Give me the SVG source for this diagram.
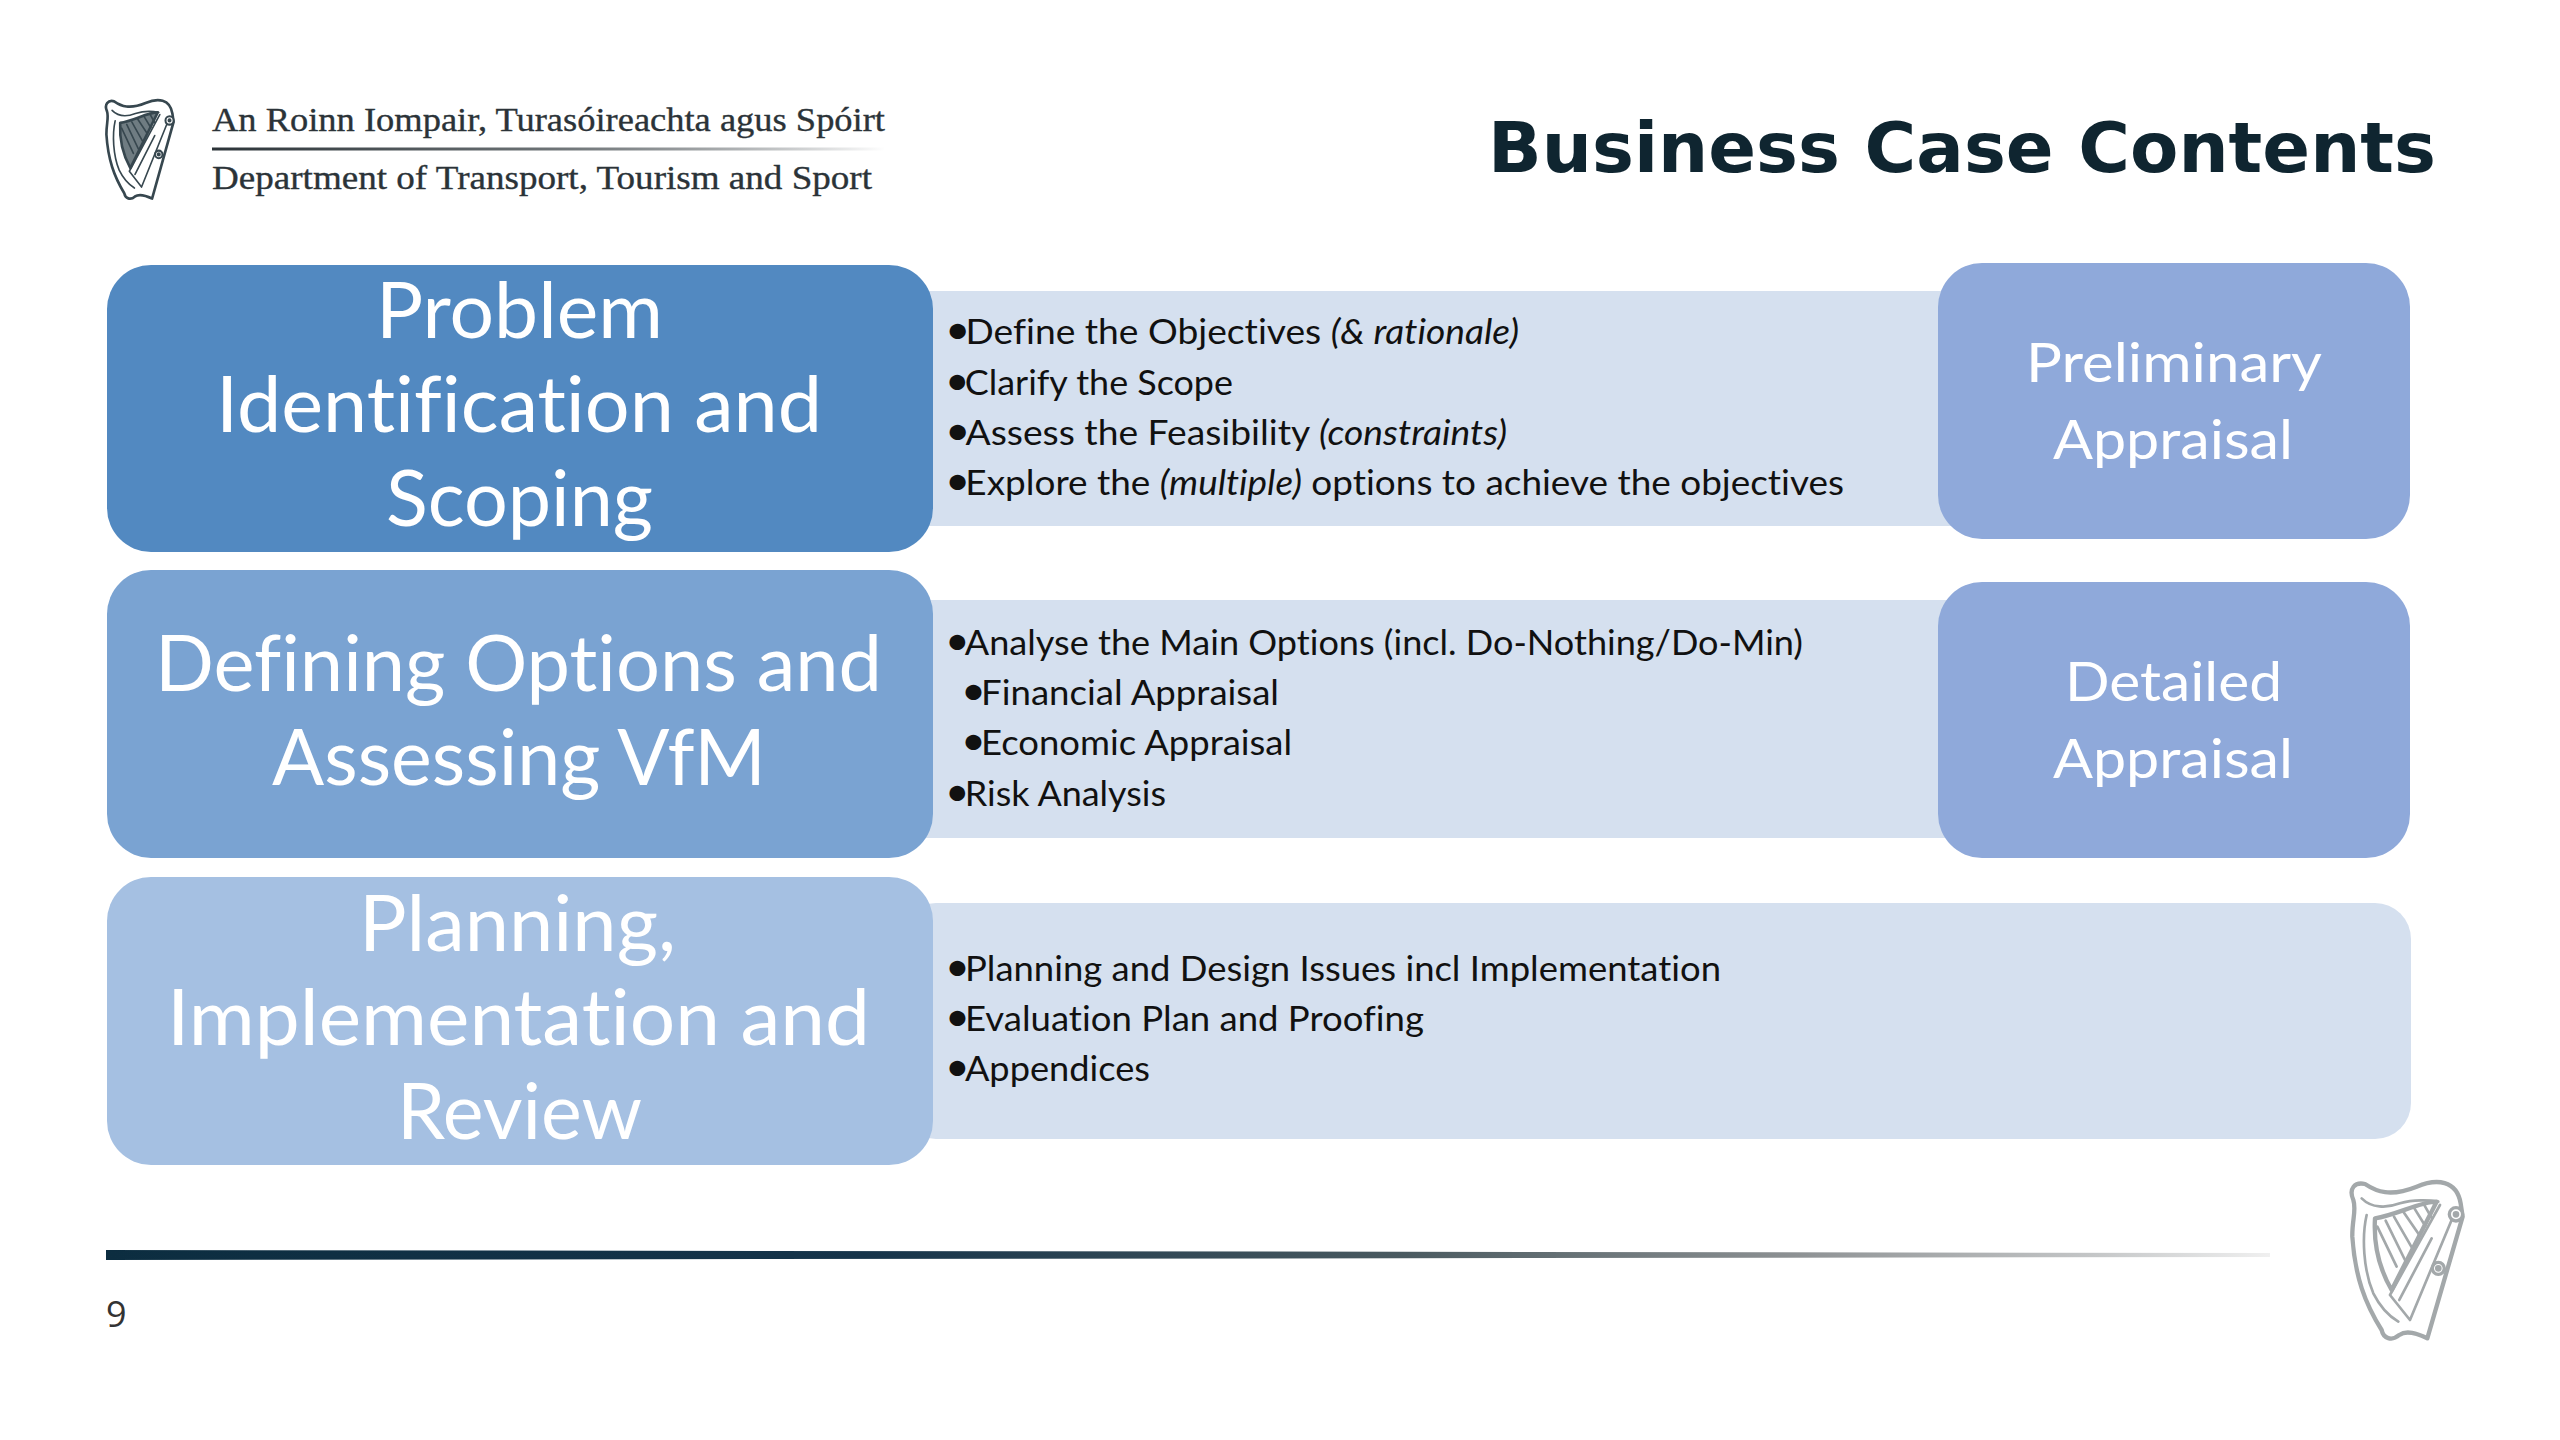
<svg xmlns="http://www.w3.org/2000/svg" width="2560" height="1440" viewBox="0 0 2560 1440">
<style>
text{font-variant-ligatures:none}
.h{font-family:"Lato","Carlito","Liberation Sans",sans-serif;fill:#fff;font-size:77px}
.r{font-family:"Lato","Carlito","Liberation Sans",sans-serif;fill:#fff;font-size:54px}
.b{font-family:"Lato","Carlito","Liberation Sans",sans-serif;fill:#111;font-size:34px}
.d{font-size:40px;letter-spacing:-4.500px}
.s{font-family:"Liberation Serif","DejaVu Serif",serif;fill:#2b3338;stroke:#2b3338;stroke-width:.35px;font-size:34px}
.i{font-style:italic}
.band{fill:#d5e0ef}
.harp path,.harp line{fill:none;stroke-linecap:round;stroke-linejoin:round}
.harp .o{stroke-width:13}
.harp .t{stroke-width:8}
.harp circle{fill:#fff;stroke-width:10}
</style>
<defs>
<linearGradient id="g1" x1="0" x2="1" y1="0" y2="0"><stop offset="0" stop-color="#2b3338"/><stop offset=".5" stop-color="#6c7275"/><stop offset="1" stop-color="#2b3338" stop-opacity="0"/></linearGradient>
<linearGradient id="g2" x1="0" x2="1" y1="0" y2="0"><stop offset="0" stop-color="#0c2d40"/><stop offset=".35" stop-color="#16344a"/><stop offset=".6" stop-color="#4a5a60"/><stop offset=".78" stop-color="#8d9193"/><stop offset=".92" stop-color="#c5c7c8"/><stop offset="1" stop-color="#f0f0f0"/></linearGradient>
<g id="harpShape" class="harp">
<path class="o" d="M340 240C325 205 345 185 375 192C410 215 450 232 530 200C590 175 650 180 662 250L668 290L562 655C530 640 500 630 478 645C455 665 430 655 425 630C375 550 345 470 337 350C336 300 350 270 340 240Z"/>
<path class="t" d="M365 235C395 265 440 265 480 250C520 238 570 240 595 245"/>
<path class="t" d="M380 285C365 350 370 450 400 520C420 560 450 590 475 605"/>
<path class="o" d="M405 295C470 285 540 245 590 245L455 510C420 450 400 380 405 295Z"/>
<path class="t" d="M600 255L450 525L510 600L635 300M575 355L478 540"/>
<path class="t" d="M412 320L470 440M437 302L495 420M462 290L517 385M490 275L538 345M520 260L556 318M550 250L574 292"/>
<circle cx="648" cy="283" r="20"/><circle cx="648" cy="283" r="5"/>
<circle cx="595" cy="445" r="18"/><circle cx="595" cy="445" r="5"/>
</g>
</defs>
<rect width="2560" height="1440" fill="#fff"/>
<g id="header">
<path d="M405 295C470 285 540 245 590 245L455 510C420 450 400 380 405 295Z" transform="translate(38 61) scale(.203 .21)" fill="#6f7c82"/>
<use href="#harpShape" transform="translate(38 61) scale(.203 .21)" stroke="#37474f"/>
<text class="s" x="212" y="131" textLength="673" lengthAdjust="spacingAndGlyphs">An Roinn Iompair, Turasóireachta agus Spóirt</text>
<rect x="212" y="147.500" width="673" height="3" fill="url(#g1)"/>
<text class="s" x="212" y="189" textLength="660" lengthAdjust="spacingAndGlyphs">Department of Transport, Tourism and Sport</text>
<text x="1488" y="172" font-family="DejaVu Sans" font-weight="700" font-size="70" fill="#0f2530" textLength="948" lengthAdjust="spacingAndGlyphs">Business Case Contents</text>
</g>
<g id="connectors"></g>
<g id="row1-band"><rect class="band" x="925" y="291" width="1030" height="235"/>
<text class="b" x="945" y="344" textLength="574" lengthAdjust="spacingAndGlyphs"><tspan class="d">•</tspan>Define the Objectives <tspan class="i">(&amp; rationale)</tspan></text>
<text class="b" x="945" y="395" textLength="288" lengthAdjust="spacingAndGlyphs"><tspan class="d">•</tspan>Clarify the Scope</text>
<text class="b" x="945" y="445" textLength="562" lengthAdjust="spacingAndGlyphs"><tspan class="d">•</tspan>Assess the Feasibility <tspan class="i">(constraints)</tspan></text>
<text class="b" x="945" y="495" textLength="899" lengthAdjust="spacingAndGlyphs"><tspan class="d">•</tspan>Explore the <tspan class="i">(multiple)</tspan> options to achieve the objectives</text></g>
<g id="row2-band"><rect class="band" x="925" y="600" width="1030" height="238"/>
<text class="b" x="945" y="655" textLength="858" lengthAdjust="spacingAndGlyphs"><tspan class="d">•</tspan>Analyse the Main Options (incl. Do-Nothing/Do-Min)</text>
<text class="b" x="961" y="705" textLength="318" lengthAdjust="spacingAndGlyphs"><tspan class="d">•</tspan>Financial Appraisal</text>
<text class="b" x="961" y="755" textLength="331" lengthAdjust="spacingAndGlyphs"><tspan class="d">•</tspan>Economic Appraisal</text>
<text class="b" x="945" y="806" textLength="221" lengthAdjust="spacingAndGlyphs"><tspan class="d">•</tspan>Risk Analysis</text></g>
<g id="row3-band"><rect class="band" x="900" y="903" width="1511" height="236" rx="36"/>
<text class="b" x="945" y="981" textLength="776" lengthAdjust="spacingAndGlyphs"><tspan class="d">•</tspan>Planning and Design Issues incl Implementation</text>
<text class="b" x="945" y="1031" textLength="479" lengthAdjust="spacingAndGlyphs"><tspan class="d">•</tspan>Evaluation Plan and Proofing</text>
<text class="b" x="945" y="1081" textLength="205" lengthAdjust="spacingAndGlyphs"><tspan class="d">•</tspan>Appendices</text></g>
<g id="problem"><rect x="107" y="265" width="826" height="287" rx="44" fill="#5289c1"/>
<text class="h" x="376" y="338" textLength="287" lengthAdjust="spacingAndGlyphs">Problem</text>
<text class="h" x="216" y="432" textLength="606" lengthAdjust="spacingAndGlyphs">Identification and</text>
<text class="h" x="386" y="526" textLength="267" lengthAdjust="spacingAndGlyphs">Scoping</text></g>
<g id="defining"><rect x="107" y="570" width="826" height="288" rx="44" fill="#7aa3d2"/>
<text class="h" x="155" y="691" textLength="727" lengthAdjust="spacingAndGlyphs">Defining Options and</text>
<text class="h" x="272" y="785" textLength="494" lengthAdjust="spacingAndGlyphs">Assessing VfM</text></g>
<g id="planning"><rect x="107" y="877" width="826" height="288" rx="44" fill="#a5c0e2"/>
<text class="h" x="359" y="951" textLength="317" lengthAdjust="spacingAndGlyphs">Planning,</text>
<text class="h" x="167" y="1045" textLength="703" lengthAdjust="spacingAndGlyphs">Implementation and</text>
<text class="h" x="397" y="1139" textLength="245" lengthAdjust="spacingAndGlyphs">Review</text></g>
<g id="preliminary"><rect x="1938" y="263" width="472" height="276" rx="44" fill="#8fa9da"/>
<text class="r" x="2026" y="382" textLength="296" lengthAdjust="spacingAndGlyphs">Preliminary</text>
<text class="r" x="2053" y="459" textLength="240" lengthAdjust="spacingAndGlyphs">Appraisal</text></g>
<g id="detailed"><rect x="1938" y="582" width="472" height="276" rx="44" fill="#8fa9da"/>
<text class="r" x="2065" y="701" textLength="217" lengthAdjust="spacingAndGlyphs">Detailed</text>
<text class="r" x="2053" y="778" textLength="240" lengthAdjust="spacingAndGlyphs">Appraisal</text></g>
<g id="footer">
<polygon points="106,1250 2270,1253 2270,1257 106,1260" fill="url(#g2)"/>
<text x="106" y="1327" font-family="Open Sans,Liberation Sans,sans-serif" font-size="36" fill="#333">9</text>
<use href="#harpShape" transform="translate(2240 1120) scale(.3333)" stroke="#a3a8aa"/>
</g>
</svg>
